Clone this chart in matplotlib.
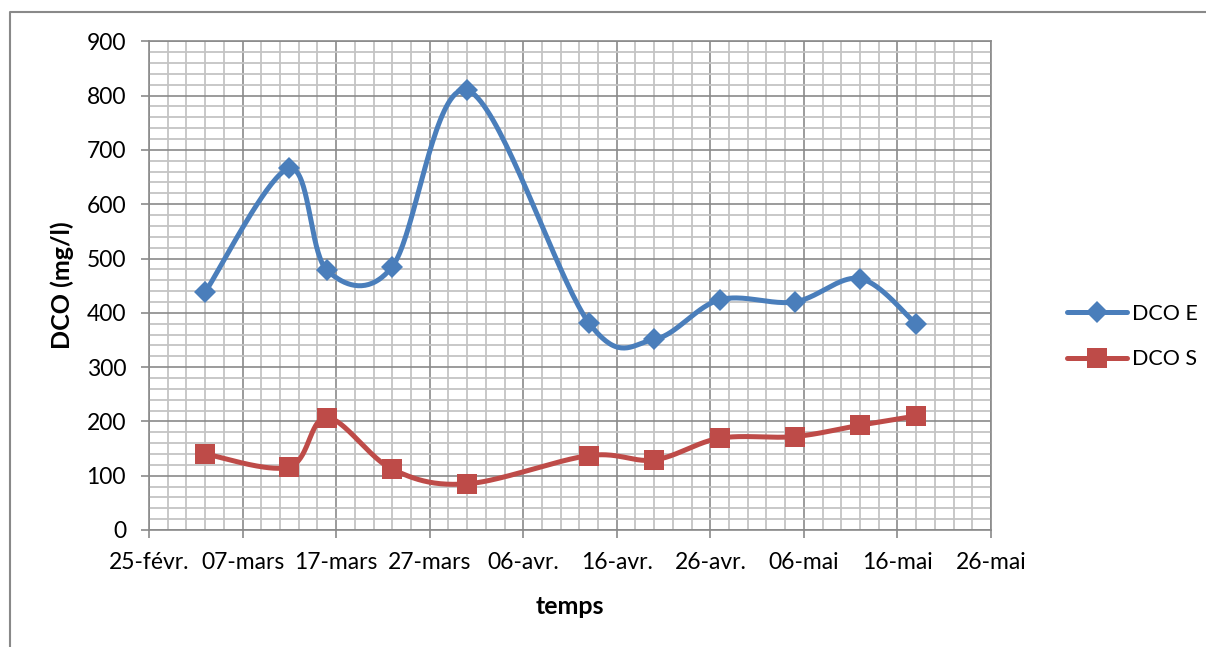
import datetime as dt
import matplotlib
matplotlib.use('Agg')
import matplotlib.pyplot as plt
import matplotlib.dates as mdates
from matplotlib.lines import Line2D
from matplotlib.ticker import FixedLocator, FuncFormatter, MultipleLocator
import numpy as np

# sampling dates (2013, day-month as printed on the axis)
dates = [dt.date(2013, 3, 3), dt.date(2013, 3, 12), dt.date(2013, 3, 16),
         dt.date(2013, 3, 23), dt.date(2013, 3, 31), dt.date(2013, 4, 13),
         dt.date(2013, 4, 20), dt.date(2013, 4, 27), dt.date(2013, 5, 5),
         dt.date(2013, 5, 12), dt.date(2013, 5, 18)]
dco_e = [438, 666, 479, 485, 810, 382, 351, 424, 420, 463, 379]
dco_s = [140, 116, 207, 112, 85, 137, 129, 169, 172, 193, 210]

x_start = dt.date(2013, 2, 25)
x_end = dt.date(2013, 5, 26)
mois = {1: 'janv.', 2: 'févr.', 3: 'mars', 4: 'avr.', 5: 'mai', 6: 'juin'}

BLUE = '#4A7EBB'
RED = '#BE4B48'
FONT = ['Lato', 'DejaVu Sans']


def smooth(x, y, n=40):
    """Excel-like smoothed line: Bezier segments with Catmull-Rom handles."""
    pts = np.column_stack([x, y]).astype(float)
    t = np.linspace(0, 1, n)[:, None]
    out = []
    for i in range(len(pts) - 1):
        p0 = pts[max(i - 1, 0)]
        p1 = pts[i]
        p2 = pts[i + 1]
        p3 = pts[min(i + 2, len(pts) - 1)]
        c1 = p1 + (p2 - p0) / 6.0
        c2 = p2 - (p3 - p1) / 6.0
        seg = ((1 - t)**3 * p1 + 3 * (1 - t)**2 * t * c1
               + 3 * (1 - t) * t**2 * c2 + t**3 * p2)
        out.append(seg if i == 0 else seg[1:])
    return np.vstack(out), n - 1


plt.rcParams['font.family'] = FONT

fig = plt.figure(figsize=(12.06, 6.47), dpi=100)
ax = fig.add_axes([149 / 1206, 1 - 530 / 647, 842 / 1206, 488.7 / 647])

xd = mdates.date2num(dates)
for vals, col, mk, ms, lab in [(dco_e, BLUE, 'D', 11.5, 'DCO E'),
                               (dco_s, RED, 's', 14, 'DCO S')]:
    curve, step = smooth(xd, vals)
    ax.plot(curve[:, 0], curve[:, 1], color=col, lw=3.6,
            marker=mk, ms=ms, markevery=list(range(0, len(curve), step)),
            markeredgewidth=0, label=lab, solid_capstyle='round', zorder=3)

x0 = mdates.date2num(x_start)
x1 = mdates.date2num(x_end)
ax.set_xlim(x0, x1)
ax.set_ylim(0, 900)

ax.xaxis.set_major_locator(FixedLocator(np.arange(x0, x1 + 1, 10)))
ax.xaxis.set_minor_locator(FixedLocator(np.arange(x0, x1 + 1, 2)))
ax.yaxis.set_major_locator(MultipleLocator(100))
ax.yaxis.set_minor_locator(MultipleLocator(20))


def fmt_date(v, pos):
    d = mdates.num2date(v)
    return '%02d-%s' % (d.day, mois[d.month])


ax.xaxis.set_major_formatter(FuncFormatter(fmt_date))

ax.grid(which='minor', color='#c4c4c4', lw=1.3, zorder=0)
ax.grid(which='major', color='#8a8a8a', lw=1.2, zorder=1)
ax.set_axisbelow(True)
for s in ax.spines.values():
    s.set_color('#8a8a8a')
    s.set_linewidth(1.2)

ax.tick_params(which='major', direction='out', length=5.5, width=1.2,
               color='#8a8a8a', labelsize=16.5)
ax.tick_params(which='minor', length=0)
ax.tick_params(axis='y', pad=11)
ax.tick_params(axis='x', pad=10)

ax.set_xlabel('temps', fontsize=18, fontweight='bold', va='center')
ax.xaxis.set_label_coords(0.5, (530 - 606) / 488.7)
ax.set_ylabel('DCO (mg/l)', fontsize=18, fontweight='bold', va='center')
ax.yaxis.set_label_coords((62 - 149) / 842, 0.5)

fig.legend(loc='center left', bbox_to_anchor=(1067 / 1206, 1 - 336.5 / 647),
           frameon=False, fontsize=15.5, handlelength=2.8, handletextpad=0.2,
           borderpad=0, borderaxespad=0, labelspacing=1.2)

# outer chart border (top and left only visible)
fig.add_artist(Line2D([10 / 1206, 10 / 1206, 1], [0, 1 - 12 / 647, 1 - 12 / 647],
                      transform=fig.transFigure, color='#898989', lw=1.5))

fig.savefig('out.png', dpi=100)
